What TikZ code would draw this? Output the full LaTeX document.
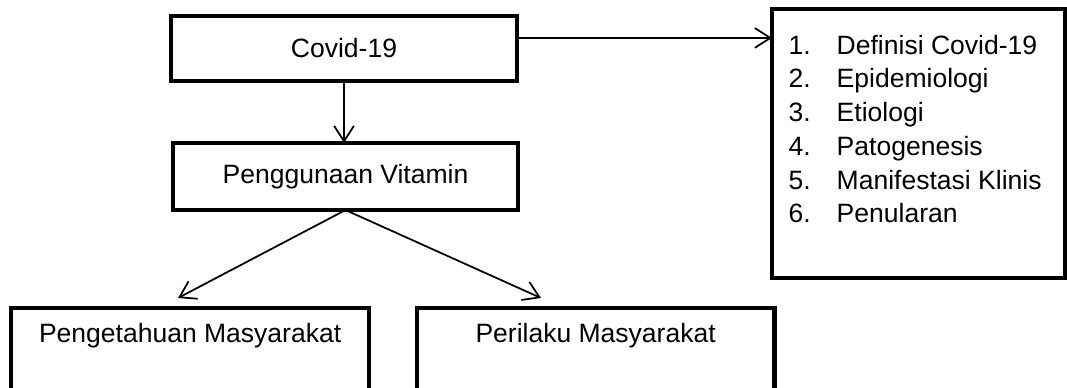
\documentclass[tikz,border=0pt]{standalone}
\usepackage{fontspec}
\setmainfont{Liberation Sans}
\usepackage{xcolor}
\usetikzlibrary{arrows.meta,calc,positioning}
\tikzset{
	box/.style={
			draw=black,
			line width=1.3pt,
			outer sep=0pt,
			inner sep=0pt
		},
	arr/.style={
			draw=black,
			line width=0.5pt,
			-{Straight Barb[length=4.4pt,width=5.6pt]}
		}
}
\begin{document}
\begin{tikzpicture}[x=0.01cm,y=-0.01cm]
			\tikzset{every node/.style={
				font=\fontsize{7.54}{9.6}\selectfont,
				text=black
			}}
			\clip (0,0) rectangle (1067,387);
			\node[box, minimum width=3.46cm, minimum height=0.65cm] (covid) at (344,48.5) {Covid-19};
			\node[box, minimum width=3.45cm, minimum height=0.67cm] (vitamin) at (345.5,176.5) {Penggunaan Vitamin};
			\node[box, anchor=north west, minimum width=2.93cm, minimum height=2.69cm] (listbox) at (772,9) {};
			\node[anchor=base west, inner sep=0pt] (listtext) at ($(listbox.north west)+(16,45)$) {%
				\begin{tabular}[t]{@{}p{0.48cm}@{}l@{}}
					1. & Definisi Covid-19\\
					2. & Epidemiologi\\
					3. & Etiologi\\
					4. & Patogenesis\\
					5. & Manifestasi Klinis\\
					6. & Penularan
				\end{tabular}};
			\node[box, anchor=north west, minimum width=3.58cm, minimum height=1cm] (know) at (11,308) {};
			\node[box, anchor=north west, minimum width=3.57cm, minimum height=1cm] (behav) at (417,308) {};
			\node[anchor=base, inner sep=0pt] (knowtext) at ($(know.north)+(0,34)$) {Pengetahuan Masyarakat};
			\node[anchor=base, inner sep=0pt] (behavtext) at ($(behav.north)+(0,34)$) {Perilaku Masyarakat};
			\coordinate (knowtip) at ($(know.north west)+(167,-10)$);
			\coordinate (behavtip) at ($(behav.north west)+(124,-10)$);
			\draw[arr] ([yshift=3pt]covid.east) -- ([yshift=3pt]covid.east -| listbox.west);
			\draw[arr] (covid.south) -- (covid.south |- vitamin.north);
			\draw[arr] (vitamin.south) -- (knowtip);
			\draw[arr] (vitamin.south) -- (behavtip);
		\end{tikzpicture}
\end{document}
